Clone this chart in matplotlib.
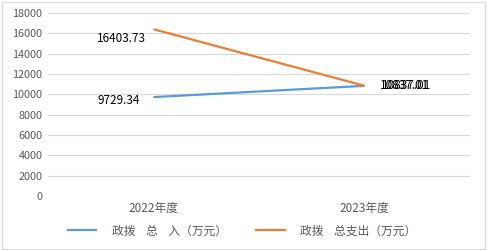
import matplotlib.pyplot as plt
from matplotlib.patches import Rectangle
from matplotlib.lines import Line2D

plt.rcParams['font.family'] = ['Noto Sans CJK SC', 'DejaVu Sans']

categories = ["2022年度", "2023年度"]
income = [9729.34, 10837.01]
expense = [16403.73, 10837.01]
series_names = ["政拨    总    入（万元）", "政拨    总支出（万元）"]
yticks = [0, 2000, 4000, 6000, 8000, 10000, 12000, 14000, 16000, 18000]

blue = "#5B9BD5"
orange = "#ED7D31"

fig = plt.figure(figsize=(4.88, 2.5), dpi=100)
ax = fig.add_axes([48 / 488, 1 - 196 / 250, 422 / 488, 183 / 250])

x = range(len(categories))
ax.plot(x, income, color=blue, lw=1.6, solid_capstyle='butt')
ax.plot(x, expense, color=orange, lw=1.6, solid_capstyle='butt')

ax.set_xlim(-0.5, 1.5)
ax.set_ylim(0, 18000)
ax.set_yticks(yticks)
ax.set_yticklabels([str(v) for v in yticks], fontsize=7.8, color="#595959")
ax.set_xticks(list(x))
ax.set_xticklabels(categories, fontsize=8.5, color="#595959")
ax.tick_params(length=0, pad=4)
ax.grid(axis='y', color="#D9D9D9", lw=0.8)
ax.set_axisbelow(True)
for s in ax.spines.values():
    s.set_visible(False)

# data labels (the two 2023 labels overlap in the original too)
lab = dict(textcoords='offset points', ha='center', va='center', fontsize=8.5)
ax.annotate(f"{expense[0]:.2f}", (0, expense[0]), xytext=(-23, -6.5), **lab)
ax.annotate(f"{income[0]:.2f}", (0, income[0]), xytext=(-25, -2.5), **lab)
ax.annotate(f"{income[1]:.2f}", (1, income[1]), xytext=(29, 0.5), **lab)
ax.annotate(f"{expense[1]:.2f}", (1, expense[1]), xytext=(30.5, 0.5), **lab)

# legend
handles = [Line2D([], [], color=blue, lw=1.6), Line2D([], [], color=orange, lw=1.6)]
fig.legend(handles, series_names, loc='center', bbox_to_anchor=(0.496, 1 - 231 / 250),
           ncol=2, frameon=False, fontsize=8.5, handlelength=2.4,
           columnspacing=2.5, handletextpad=1.3, labelcolor="#595959")

# outer border
fig.patches.append(Rectangle((0.004, 0.006), 0.99, 0.988, transform=fig.transFigure,
                             fill=False, edgecolor="#D9D9D9", lw=0.8))

fig.savefig("out.png", dpi=100)
